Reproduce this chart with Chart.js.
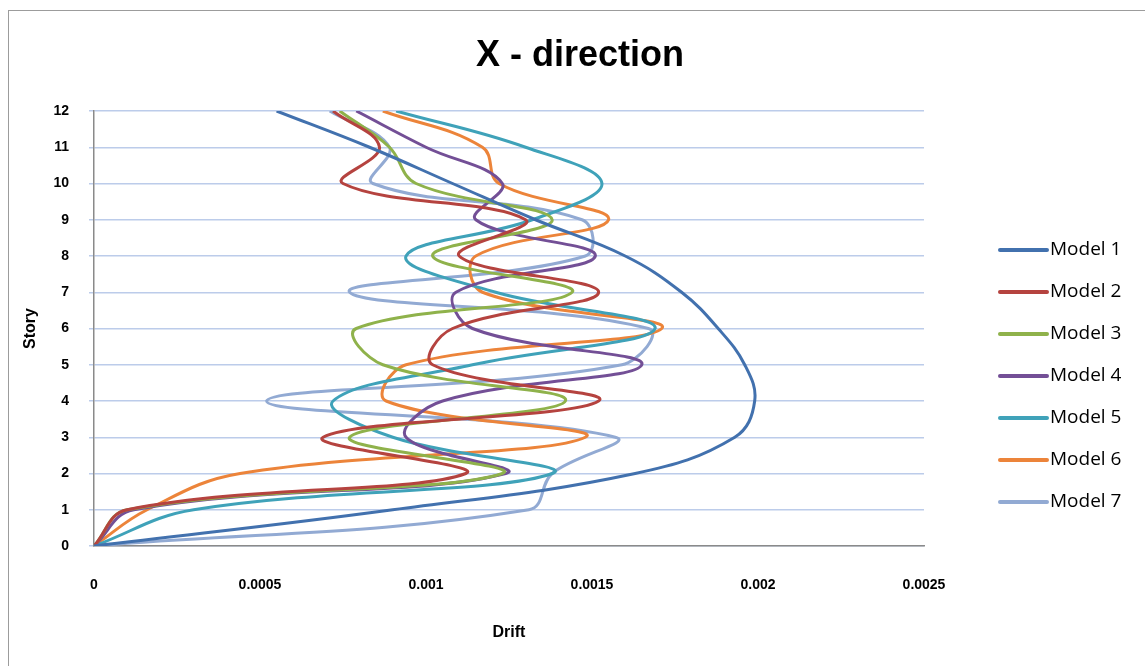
<!DOCTYPE html>
<html>
<head>
<meta charset="utf-8">
<script src="https://cdn.jsdelivr.net/npm/chart.js@4"></script>
<style>
	html, body { margin: 0; padding: 0; background: #fff; }
	#frame { position: absolute; left: 8px; top: 10px; width: 1150px; height: 700px; border: 1px solid #9c9c9c; }
	#wrap { position: absolute; left: 0; top: 0; width: 1145px; height: 666px; }
</style>
</head>
<body>
<div id="frame"></div>
<div id="wrap"><canvas id="myChart" width="1145" height="666"></canvas></div>
<script>
/*globals Chart*/
const chartTitle = "X - direction";
const stories = [0, 1, 2, 3, 4, 5, 6, 7, 8, 9, 10, 11, 12];
const seriesNames = ["Model 1", "Model 2", "Model 3", "Model 4", "Model 5", "Model 6", "Model 7"];
const seriesColors = ["#4271AE", "#B5433F", "#8FB24B", "#734F96", "#3FA2B9", "#EC843A", "#92AAD3"];
// drift per story (0..12)
const model1 = [0, 0.0009, 0.00163, 0.00193, 0.00199, 0.00196, 0.00188, 0.00177, 0.0016, 0.00133, 0.00108, 0.00083, 0.00055];
const model2 = [0, 0.0001, 0.00112, 0.00069, 0.00152, 0.00102, 0.00108, 0.00152, 0.0011, 0.0013, 0.00075, 0.00086, 0.00072];
const model3 = [0, 0.0001, 0.00123, 0.00077, 0.00142, 0.00087, 0.00079, 0.00144, 0.00102, 0.00138, 0.00097, 0.00089, 0.00074];
const model4 = [0, 0.00012, 0.00124, 0.00094, 0.00105, 0.00165, 0.00114, 0.00109, 0.00151, 0.00115, 0.00123, 0.001, 0.00079];
const model5 = [0, 0.0003, 0.00138, 0.0009, 0.00072, 0.00114, 0.00169, 0.00121, 0.00094, 0.00132, 0.00153, 0.0013, 0.00091];
const model6 = [0, 0.00016, 0.00044, 0.00148, 0.00088, 0.00094, 0.00171, 0.00117, 0.00115, 0.00155, 0.00122, 0.00117, 0.00087];
const model7 = [0, 0.00131, 0.00138, 0.00157, 0.00052, 0.00159, 0.00167, 0.00077, 0.00148, 0.00147, 0.00084, 0.00089, 0.00071];
const xTickLabels = ["0", "0.0005", "0.001", "0.0015", "0.002", "0.0025"];

const allModels = [model1, model2, model3, model4, model5, model6, model7];

const gridBlue = "#BCCCEA";
const axisGray = "#8A8A8A";

// titolo + legenda disegnati a mano, come in Excel
const excelDecor = {
	id: "excelDecor",
	afterDraw(chart) {
		const ctx = chart.ctx;
		const area = chart.chartArea;
		ctx.save();
		ctx.fillStyle = "#000";
		ctx.textAlign = "center";
		ctx.textBaseline = "middle";
		ctx.font = 'bold 36px "Liberation Sans", Arial, sans-serif';
		ctx.fillText(chartTitle, 580, 56);
		const lx = area.right + 76;
		chart.data.datasets.forEach((ds, i) => {
			const y = 250 + i * 42;
			ctx.strokeStyle = ds.borderColor;
			ctx.lineWidth = 4;
			ctx.lineCap = "round";
			ctx.beginPath();
			ctx.moveTo(lx, y);
			ctx.lineTo(lx + 47, y);
			ctx.stroke();
			ctx.textAlign = "left";
			ctx.font = '19px "Open Sans", sans-serif';
			ctx.fillText(ds.label, lx + 50, y);
		});
		ctx.restore();
	},
};

function buildDatasets() {
	return allModels.map((vals, i) => ({
		label: seriesNames[i],
		data: stories.map((s, j) => ({ x: vals[j], y: s })),
		borderColor: seriesColors[i],
		backgroundColor: seriesColors[i],
		borderWidth: 3,
		pointRadius: 0,
		showLine: true,
		tension: 0.4,
	}));
}

const tickFont = { family: '"Liberation Sans", Arial, sans-serif', size: 14, weight: "bold" };
const axisTitleFont = { family: '"Liberation Sans", Arial, sans-serif', size: 16, weight: "bold" };

new Chart(document.getElementById("myChart").getContext("2d"), {
	type: "scatter",
	data: { datasets: buildDatasets() },
	options: {
		responsive: false,
		animation: false,
		layout: { padding: { top: 111, right: 221, bottom: 0, left: 0 } },
		plugins: {
			legend: { display: false },
			title: { display: false },
			tooltip: { enabled: false },
		},
		scales: {
			x: {
				type: "linear",
				min: 0,
				max: 0.0025,
				afterFit: (s) => { s.height = 120; },
				ticks: {
					stepSize: 0.0005,
					color: "#000",
					font: tickFont,
					padding: 31,
					callback: (v, i) => xTickLabels[i],
				},
				grid: { display: false, drawTicks: false },
				border: { display: true, color: axisGray, width: 1.5 },
				title: { display: true, text: "Drift", color: "#000", font: axisTitleFont, padding: { top: 0, bottom: 24 } },
			},
			y: {
				type: "linear",
				min: 0,
				max: 12,
				afterFit: (s) => { s.width = 94; },
				ticks: { stepSize: 1, color: "#000", font: tickFont, padding: 20 },
				grid: { color: gridBlue, lineWidth: 1.5, tickLength: 5, tickColor: gridBlue },
				border: { display: true, color: axisGray, width: 1.5 },
				title: { display: true, text: "Story", color: "#000", font: axisTitleFont, padding: { top: 21, bottom: 0 } },
			},
		},
	},
	plugins: [excelDecor],
});
</script>
</body>
</html>
